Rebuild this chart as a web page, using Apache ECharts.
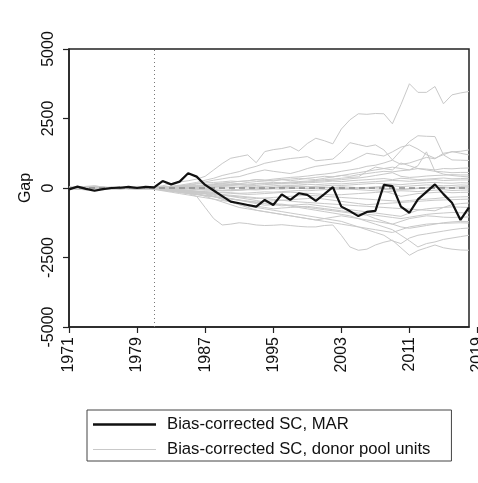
<!DOCTYPE html>
<html>
<head>
<meta charset="utf-8">
<script src="https://cdn.jsdelivr.net/npm/echarts@6/dist/echarts.min.js"></script>
<style>
  html, body { margin: 0; padding: 0; background: #ffffff; }
  #chart { width: 478px; height: 483px; }
</style>
</head>
<body>
<div id="chart"></div>
<script>
// Years covered by the gap series
const years = [];
for (let y = 1971; y <= 2018; y++) years.push(y);

const treatmentYear = 1981;
const yTicks = [-5000, -2500, 0, 2500, 5000];
const xTickStart = 1971;
const xTickStep = 8;

// Bias-corrected synthetic control gap for the treated unit (MAR)
const marGap = [
  -50, 50, -30, -100, -40, 0, 10, 40, 0, 40,
  20, 250, 130, 230, 530, 410, 110, -90, -290, -490,
  -550, -610, -670, -430, -610, -230, -430, -190, -250, -460,
  -220, 30, -670, -830, -1010, -860, -820, 110, 70, -670,
  -890, -410, -140, 130, -220, -530, -1150, -700
];

// Placebo gaps for the donor pool units
const donorGaps = [
  [20,-10,30,-20,10,0,-30,20,-10,0, 30,80,150,220,260,320,420,650,880,1070, 1130,1190,910,1310,1380,1420,1490,1330,1600,1790, 1700,1590,2120,2450,2670,2650,2680,2670,2310,3000, 3750,3440,3440,3650,3030,3350,3420,3470],
  [-20,10,0,30,-10,20,0,-20,10,0, 20,40,60,100,150,200,280,350,450,520, 590,700,780,890,950,1010,1060,1090,1130,980, 1010,1040,1300,1630,1560,1490,1550,1370,1010,1350, 1670,1880,1860,1850,1190,1010,1000,990],
  [10,-20,20,0,-30,10,20,0,-10,10, 0,-20,10,60,120,160,220,280,330,380, 410,500,580,650,600,560,520,600,700,780, 820,870,900,950,1100,1250,1200,1150,1300,1470, 1550,1400,1200,1070,1200,1310,1250,1190],
  [0,20,-20,10,30,-10,0,20,-30,0, 0,20,40,30,60,90,120,150,180,200, 240,260,300,280,320,350,380,400,430,470, 500,540,600,650,700,780,820,900,1000,850, 900,1000,1100,1050,1250,1300,1320,1370],
  [-10,0,40,20,-20,0,10,-10,20,10, 10,0,-20,10,30,50,80,120,160,180, 150,200,230,250,280,300,260,300,350,380, 420,400,450,500,550,600,650,700,750,700, 650,800,1300,600,500,450,420,400],
  [10,30,-10,-30,0,20,-20,10,0,-10, 0,30,50,80,100,140,180,200,220,250, 230,260,300,280,250,300,320,350,330,300, 350,400,450,420,480,520,560,600,580,620, 650,700,680,650,700,690,710,720],
  [-20,0,50,40,10,-10,20,0,40,30, -10,10,30,50,70,60,90,110,100,130, 150,140,160,180,200,190,210,230,250,270, 300,320,350,380,400,600,750,700,650,900, 800,700,650,600,580,550,560,560],
  [0,-30,-50,-60,-20,10,-10,0,-40,-20, 0,-20,-40,-20,0,20,40,60,80,100, 120,100,140,160,150,170,190,200,220,240, 260,280,300,330,360,400,450,500,550,420, 380,400,430,450,460,480,470,470],
  [30,10,-20,0,20,30,10,-20,0,20, 20,40,30,60,80,70,90,100,120,110, 130,100,90,120,140,160,150,170,190,200, 220,250,230,260,280,300,320,340,300,350, 330,300,320,340,360,330,340,350],
  [-10,20,60,80,30,0,-20,10,30,-10, -10,-20,0,20,10,30,50,40,60,80, 70,50,40,60,80,100,90,110,130,120, 140,160,150,170,190,210,230,250,270,260, 240,260,280,300,270,280,290,290],
  [20,-10,-40,-20,0,30,0,-20,10,30, 10,20,0,-10,-30,-20,0,20,40,30, 10,0,20,40,30,50,70,60,40,60, 80,100,90,110,130,150,170,160,140,120, 150,170,190,200,180,170,190,180],
  [-30,-10,20,50,10,-20,-40,-10,60,40, 0,-10,-30,-50,-40,-60,-80,-70,-90,-100, -80,-60,-70,-50,-30,-40,-20,0,-10,10, 30,20,0,-20,0,20,40,60,80,50, 70,90,110,100,80,90,110,100],
  [10,40,0,-50,-30,10,30,0,-20,-10, -20,-40,-60,-80,-100,-120,-140,-160,-150,-170, -190,-180,-160,-140,-150,-130,-110,-90,-100,-80, -60,-40,-50,-30,-10,0,20,-10,-30,-50, -20,0,20,40,30,20,50,40],
  [0,-20,30,70,40,0,-10,20,50,20, 10,30,50,40,20,0,-20,-40,-30,-50, -70,-60,-40,-20,0,20,10,-10,-30,-20, 0,20,40,30,10,-10,-30,-50,-70,-60, -40,-20,0,20,10,-10,0,0],
  [-10,-30,-60,-40,-10,20,0,-30,-50,-20, -10,-30,-50,-70,-90,-110,-130,-150,-170,-190, -210,-230,-220,-200,-180,-160,-150,-170,-190,-210, -230,-250,-240,-220,-200,-180,-160,-140,-120,-100, -110,-130,-100,-80,-60,-90,-80,-70],
  [40,20,-10,-30,0,-20,10,30,-10,0, 0,10,-10,-30,-20,-40,-60,-80,-100,-90, -70,-50,-30,-10,10,30,50,70,60,40, 20,0,-20,-40,-60,-80,-100,-120,-200,-300, -250,-200,-180,-160,-140,-170,-160,-150],
  [-20,0,20,-10,-40,-20,0,-10,20,-30, -20,-50,-80,-110,-140,-170,-200,-230,-260,-290, -320,-350,-380,-360,-340,-320,-300,-280,-260,-280, -300,-320,-340,-360,-380,-400,-420,-440,-460,-480, -450,-420,-400,-380,-350,-330,-320,-310],
  [10,-40,-70,-30,20,0,-30,-10,30,-20, -30,-70,-110,-150,-190,-230,-270,-310,-350,-390, -430,-470,-500,-480,-460,-440,-420,-400,-380,-360, -400,-440,-480,-520,-560,-600,-580,-560,-540,-520, -500,-480,-460,-440,-430,-420,-410,-400],
  [-40,-20,10,40,20,-20,-40,0,20,0, 0,-20,-50,-80,-110,-140,-170,-200,-230,-260, -290,-320,-350,-380,-410,-440,-470,-500,-520,-540, -560,-580,-600,-620,-640,-660,-680,-700,-720,-740, -760,-780,-800,-820,-700,-600,-560,-540],
  [30,0,-30,-60,-20,10,40,20,-20,-40, -40,-80,-120,-160,-200,-240,-280,-320,-360,-400, -440,-480,-520,-560,-600,-640,-620,-600,-580,-620, -660,-700,-740,-780,-820,-860,-900,-940,-980,-1020, -900,-800,-750,-720,-700,-680,-690,-700],
  [-10,-50,-20,20,10,-30,-10,30,10,-20, -50,-100,-150,-200,-250,-300,-350,-400,-450,-500, -550,-600,-650,-700,-750,-720,-700,-680,-660,-700, -740,-780,-820,-860,-900,-940,-980,-1020,-1060,-1100, -1050,-1000,-950,-920,-900,-880,-890,-900],
  [20,30,0,-20,-50,-30,0,-20,-40,-10, -20,-60,-100,-140,-180,-220,-260,-300,-400,-500, -600,-700,-800,-850,-900,-950,-1000,-1050,-1100,-1150, -1100,-1050,-1000,-1050,-1100,-1150,-1200,-1250,-1300,-1200, -1100,-1050,-1000,-1020,-1050,-1060,-1050,-1040],
  [0,-20,-40,-10,30,10,-20,-30,0,10, 0,-50,-100,-150,-200,-300,-700,-1100,-1330,-1300, -1250,-1280,-1330,-1350,-1340,-1320,-1350,-1380,-1400,-1400, -1350,-1330,-1700,-2120,-2240,-2200,-2050,-1950,-1880,-2150, -2420,-2250,-2150,-2050,-2150,-2200,-2230,-2240],
  [-20,10,40,0,-30,-10,20,0,-30,-10, 0,-40,-80,-120,-160,-200,-300,-400,-500,-600, -700,-750,-800,-850,-900,-950,-1000,-1050,-1100,-1150, -1200,-1250,-1300,-1350,-1400,-1450,-1500,-1550,-1600,-1500, -1400,-1350,-1300,-1280,-1270,-1260,-1250,-1260],
  [10,-10,-30,-50,-10,20,0,-20,-10,20, -30,-60,-90,-120,-150,-180,-210,-300,-400,-500, -600,-650,-700,-750,-800,-850,-900,-950,-1000,-1050, -1100,-1150,-1200,-1300,-1400,-1500,-1600,-1700,-1900,-2000, -1800,-1700,-1650,-1600,-1550,-1500,-1460,-1440],
  [0,20,-10,-40,-60,-20,10,-10,-30,0, -10,-30,-60,-90,-120,-160,-200,-260,-320,-380, -440,-500,-560,-620,-600,-580,-620,-660,-700,-740, -780,-820,-860,-900,-940,-980,-1100,-1200,-1300,-1400, -1450,-1400,-1350,-1300,-1250,-1220,-1200,-1210],
  [-30,-10,10,30,0,-40,-20,10,-10,-30, 0,-20,-40,-60,-90,-120,-160,-200,-250,-300, -350,-400,-450,-500,-550,-600,-650,-700,-750,-800, -850,-900,-950,-1000,-1100,-1200,-1300,-1400,-1500,-1700, -1900,-2120,-2000,-1940,-1850,-1800,-1750,-1700]
];

const NAME_MAR = 'Bias-corrected SC, MAR';
const NAME_DONOR = 'Bias-corrected SC, donor pool units';
const FONT = '"Liberation Sans", Arial, Helvetica, sans-serif';

const toPairs = vals => vals.map((v, i) => [years[i], v]);

const series = donorGaps.map((vals, k) => ({
  name: NAME_DONOR,
  type: 'line',
  xAxisIndex: 0,
  yAxisIndex: 0,
  data: toPairs(vals),
  symbol: 'none',
  silent: true,
  z: 2,
  lineStyle: { color: '#c9c9c9', width: 1 },
  itemStyle: { color: '#c9c9c9' },
  markLine: k === donorGaps.length - 1 ? {
    silent: true,
    symbol: ['none', 'none'],
    label: { show: false },
    lineStyle: { color: '#8a8a8a', type: [6, 4], width: 1.5 },
    data: [{ yAxis: 0 }]
  } : undefined
}));

series.push({
  name: NAME_MAR,
  type: 'line',
  xAxisIndex: 0,
  yAxisIndex: 0,
  data: toPairs(marGap),
  symbol: 'none',
  z: 5,
  lineStyle: { color: '#111111', width: 2.2 },
  itemStyle: { color: '#111111' },
  markLine: {
    silent: true,
    symbol: ['none', 'none'],
    label: { show: false },
    lineStyle: { color: '#777777', type: [1, 3], width: 1 },
    data: [{ xAxis: treatmentYear }]
  }
});

// Placeholder series so the tick-label axis in the second grid is laid out
series.push({ type: 'line', xAxisIndex: 1, yAxisIndex: 1, data: [], silent: true });

const plotLeft = 69, plotTop = 49, plotW = 400, plotH = 278;
const lastYear = years[years.length - 1];
const labelMax = xTickStart + xTickStep * Math.ceil((lastYear - xTickStart) / xTickStep);

const chart = echarts.init(document.getElementById('chart'), null, { renderer: 'canvas' });
chart.setOption({
  animation: false,
  backgroundColor: '#ffffff',
  textStyle: { fontFamily: FONT },
  grid: [
    { left: plotLeft, top: plotTop, width: plotW, height: plotH, show: true,
      outerBoundsMode: 'none', containLabel: false,
      borderColor: '#222222', borderWidth: 1.5, backgroundColor: 'transparent' },
    { left: plotLeft, top: plotTop, outerBoundsMode: 'none', containLabel: false,
      width: plotW * (labelMax - xTickStart) / (lastYear - xTickStart), height: plotH }
  ],
  xAxis: [
    { type: 'value', gridIndex: 0, min: xTickStart, max: lastYear, interval: xTickStep,
      axisLine: { show: true, onZero: false, lineStyle: { color: '#222222', width: 1.5 } },
      axisTick: { show: false }, axisLabel: { show: false }, splitLine: { show: false } },
    { type: 'value', gridIndex: 1, min: xTickStart, max: labelMax, interval: xTickStep,
      axisLine: { show: false, onZero: false },
      axisTick: { show: true, length: 6, lineStyle: { color: '#222222', width: 1.2 } },
      axisLabel: { show: true, rotate: 90, margin: 10, fontSize: 16, color: '#111111',
        fontFamily: FONT, formatter: v => String(v) },
      splitLine: { show: false } }
  ],
  yAxis: [
    { type: 'value', gridIndex: 0, min: yTicks[0], max: yTicks[yTicks.length - 1], interval: 2500,
      name: 'Gap', nameLocation: 'middle', nameRotate: 90, nameGap: 34,
      nameTextStyle: { fontSize: 16, color: '#111111', fontFamily: FONT },
      axisLine: { show: true, onZero: false, lineStyle: { color: '#222222', width: 1.5 } },
      axisTick: { show: true, length: 6, lineStyle: { color: '#222222', width: 1.2 } },
      axisLabel: { rotate: 90, margin: 12, fontSize: 16, color: '#111111', fontFamily: FONT,
        formatter: v => String(v) },
      splitLine: { show: false } },
    { type: 'value', gridIndex: 1, min: yTicks[0], max: yTicks[yTicks.length - 1], show: false }
  ],
  legend: {
    orient: 'vertical',
    left: 87,
    top: 410,
    padding: [6, 21, 3, 6],
    itemWidth: 69,
    itemHeight: 14,
    itemGap: 8,
    borderColor: '#444444',
    borderWidth: 1,
    selectedMode: false,
    textStyle: { fontSize: 16.7, color: '#111111', fontFamily: FONT, lineHeight: 16 },
    data: [
      { name: NAME_MAR, icon: 'path://M0,0 L63,0 L63,2.4 L0,2.4 Z M69,0 L69,0.01 Z',
        itemStyle: { color: '#111111' } },
      { name: NAME_DONOR, icon: 'path://M0,0 L63,0 L63,1 L0,1 Z M69,0 L69,0.01 Z',
        itemStyle: { color: '#c9c9c9' } }
    ]
  },
  series: series
});
</script>
</body>
</html>
